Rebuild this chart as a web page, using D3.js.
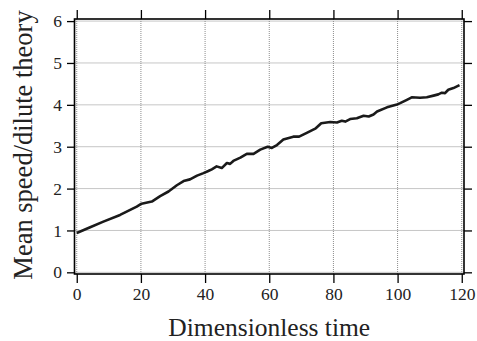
<!DOCTYPE html>
<html>
<head>
<meta charset="utf-8">
<script src="https://cdn.jsdelivr.net/npm/d3@7"></script>
<style>
  html, body { margin: 0; padding: 0; background: #fff; }
  svg { display: block; }
  svg text { font-family: "Liberation Serif", "Times New Roman", serif; }
</style>
</head>
<body>
<div id="chart"></div>
<script>
// time samples and mean speed
const times = [0, 4, 8.3, 13.5, 18.7, 20.2, 23.4, 26, 28.6, 31.2, 33.3, 35.3, 37.5, 39.5, 41, 42.1, 43.6, 45.2,
  46.8, 47.8, 48.8, 51, 53, 55.1, 57.2, 59.5, 60.8, 62.4, 64.4, 67.5, 69.3, 71.7, 74.5, 76.2, 79, 81.1, 82.6,
  83.7, 85.2, 87.3, 89.4, 91, 92.5, 93.6, 96.7, 99.8, 100.8, 102.9, 104.4, 107, 109.1, 111.2, 112.7, 113.8,
  114.8, 115.8, 117.4, 119.3];
const speeds = [0.94, 1.07, 1.21, 1.37, 1.57, 1.64, 1.69, 1.82, 1.93, 2.08, 2.18, 2.22, 2.31, 2.37, 2.42, 2.46,
  2.53, 2.49, 2.61, 2.59, 2.66, 2.74, 2.83, 2.83, 2.93, 3.0, 2.97, 3.04, 3.17, 3.24, 3.24, 3.33, 3.44, 3.56,
  3.59, 3.58, 3.62, 3.6, 3.66, 3.68, 3.74, 3.72, 3.77, 3.84, 3.94, 4.01, 4.04, 4.12, 4.18, 4.17, 4.18, 4.22,
  4.25, 4.29, 4.28, 4.36, 4.4, 4.47];
const xTicks = [0, 20, 40, 60, 80, 100, 120];
const yTicks = [0, 1, 2, 3, 4, 5, 6];

const width = 477, height = 341;
const margin = { top: 19, right: 13, bottom: 67, left: 74.5 };
const serif = '"Liberation Serif", "Times New Roman", serif';

const svg = d3.select('#chart')
  .append('svg')
  .attr('width', width)
  .attr('height', height);

const x = d3.scaleLinear()
  .domain([-0.7, 120.7])
  .range([margin.left, width - margin.right]);

const y = d3.scaleLinear()
  .domain([-0.04, 6.05])
  .range([height - margin.bottom, margin.top]);

const x0 = margin.left, x1 = width - margin.right;
const y0 = height - margin.bottom, y1 = margin.top;

// dotted grid
const grid = svg.append('g')
  .attr('stroke', '#8c8c8c')
  .attr('stroke-width', 1)
  .attr('stroke-dasharray', '1,1');

grid.selectAll('.gx')
  .data(xTicks)
  .enter().append('line')
  .attr('x1', d => x(d)).attr('x2', d => x(d))
  .attr('y1', y0).attr('y2', y1);

grid.selectAll('.gy')
  .data(yTicks)
  .enter().append('line')
  .attr('x1', x0).attr('x2', x1)
  .attr('y1', d => y(d)).attr('y2', d => y(d));

// axes with outward ticks on all four sides
const fmt = d3.format('d');
const axisStyle = g => {
  g.attr('font-family', serif).attr('font-size', 17.5);
  g.select('.domain').remove();
  g.selectAll('.tick line').attr('stroke', '#000').attr('stroke-width', 1.3);
  g.selectAll('.tick text').attr('fill', '#222');
};

svg.append('g')
  .attr('transform', `translate(0,${y0})`)
  .call(d3.axisBottom(x).tickValues(xTicks).tickFormat(fmt).tickSize(9).tickPadding(5))
  .call(axisStyle);

svg.append('g')
  .attr('transform', `translate(0,${y1})`)
  .call(d3.axisTop(x).tickValues(xTicks).tickFormat('').tickSize(9))
  .call(axisStyle);

svg.append('g')
  .attr('transform', `translate(${x0},0)`)
  .call(d3.axisLeft(y).tickValues(yTicks).tickFormat(fmt).tickSize(7.5).tickPadding(5))
  .call(axisStyle);

svg.append('g')
  .attr('transform', `translate(${x1},0)`)
  .call(d3.axisRight(y).tickValues(yTicks).tickFormat('').tickSize(8))
  .call(axisStyle);

// frame
svg.append('rect')
  .attr('x', x0).attr('y', y1)
  .attr('width', x1 - x0).attr('height', y0 - y1)
  .attr('fill', 'none')
  .attr('stroke', '#000')
  .attr('stroke-width', 1.6);

// the data line
const pts = times.map((t, i) => [t, speeds[i]]);
const line = d3.line()
  .x(d => x(d[0]))
  .y(d => y(d[1]));

svg.append('path')
  .datum(pts)
  .attr('fill', 'none')
  .attr('stroke', '#1a1a1a')
  .attr('stroke-width', 2.6)
  .attr('stroke-linejoin', 'round')
  .attr('d', line);

// axis titles
svg.append('text')
  .attr('x', (x0 + x1) / 2)
  .attr('y', 336)
  .attr('text-anchor', 'middle')
  .attr('fill', '#222')
  .attr('font-family', serif)
  .attr('font-size', 25.5)
  .text('Dimensionless time');

svg.append('text')
  .attr('transform', 'translate(32,145) rotate(-90)')
  .attr('text-anchor', 'middle')
  .attr('fill', '#222')
  .attr('font-family', serif)
  .attr('font-size', 26.5)
  .text('Mean speed/dilute theory');
</script>
</body>
</html>
